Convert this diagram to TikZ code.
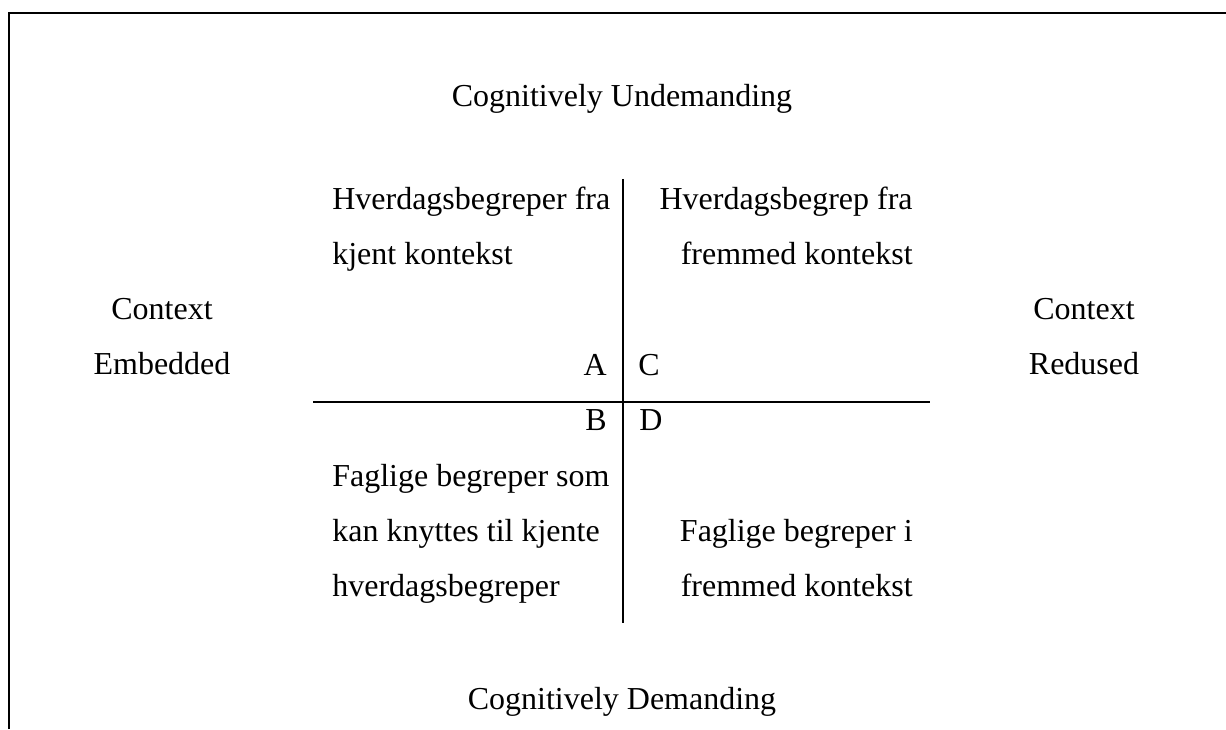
\documentclass[tikz,border=0pt]{standalone}
\usepackage{fontspec}
\setmainfont{Liberation Serif}
\tikzset{
  txt/.style={inner sep=0pt,font=\fontsize{18.2pt}{31.5pt}\selectfont},
  axis/.style={line width=0.75pt},
  frame/.style={line width=1.1pt}
}
\begin{document}
\begin{tikzpicture}
    \useasboundingbox (0,0) rectangle (24.52,14.58);
    \draw[frame] (0.18,0) -- (0.18,14.32) -- (24.52,14.32);
    % the two axes
    \coordinate (top) at (12.46,11.0);
    \coordinate (bot) at (12.46,2.12);
    \coordinate (lft) at (6.26,6.54);
    \coordinate (rgt) at (18.6,6.54);
    \draw[axis] (top) -- (bot);
    \draw[axis] (lft) -- (rgt);
    % outer labels (base = last line)
    \node[txt,anchor=base] (undem) at (12.44,12.44) {Cognitively Undemanding};
    \node[txt,anchor=base] (dem) at (12.44,0.40) {Cognitively Demanding};
    \node[txt,anchor=base,align=center] (embed) at (3.24,7.08) {Context\\Embedded};
    \node[txt,anchor=base,align=center] (redus) at (21.68,7.08) {Context\\Redused};
    % quadrants
    \node[txt,anchor=base west,align=left] (qa) at (6.64,9.28)
      {Hverdagsbegreper fra\\kjent kontekst};
    \node[txt,anchor=base east,align=right] (qc) at (18.26,9.28)
      {Hverdagsbegrep fra\\fremmed kontekst};
    \node[txt,anchor=base west,align=left] (qb) at (6.64,2.64)
      {Faglige begreper som\\kan knyttes til kjente\\hverdagsbegreper};
    \node[txt,anchor=base east,align=right] (qd) at (18.26,2.64)
      {Faglige begreper i\\fremmed kontekst};
    \node[txt,anchor=base east] (la) at (12.14,7.06) {A};
    \node[txt,anchor=base east] (lb) at (12.14,5.96) {B};
    \node[txt,anchor=base west] (lc) at (12.76,7.06) {C};
    \node[txt,anchor=base west] (ld) at (12.78,5.96) {D};
\end{tikzpicture}
\end{document}
